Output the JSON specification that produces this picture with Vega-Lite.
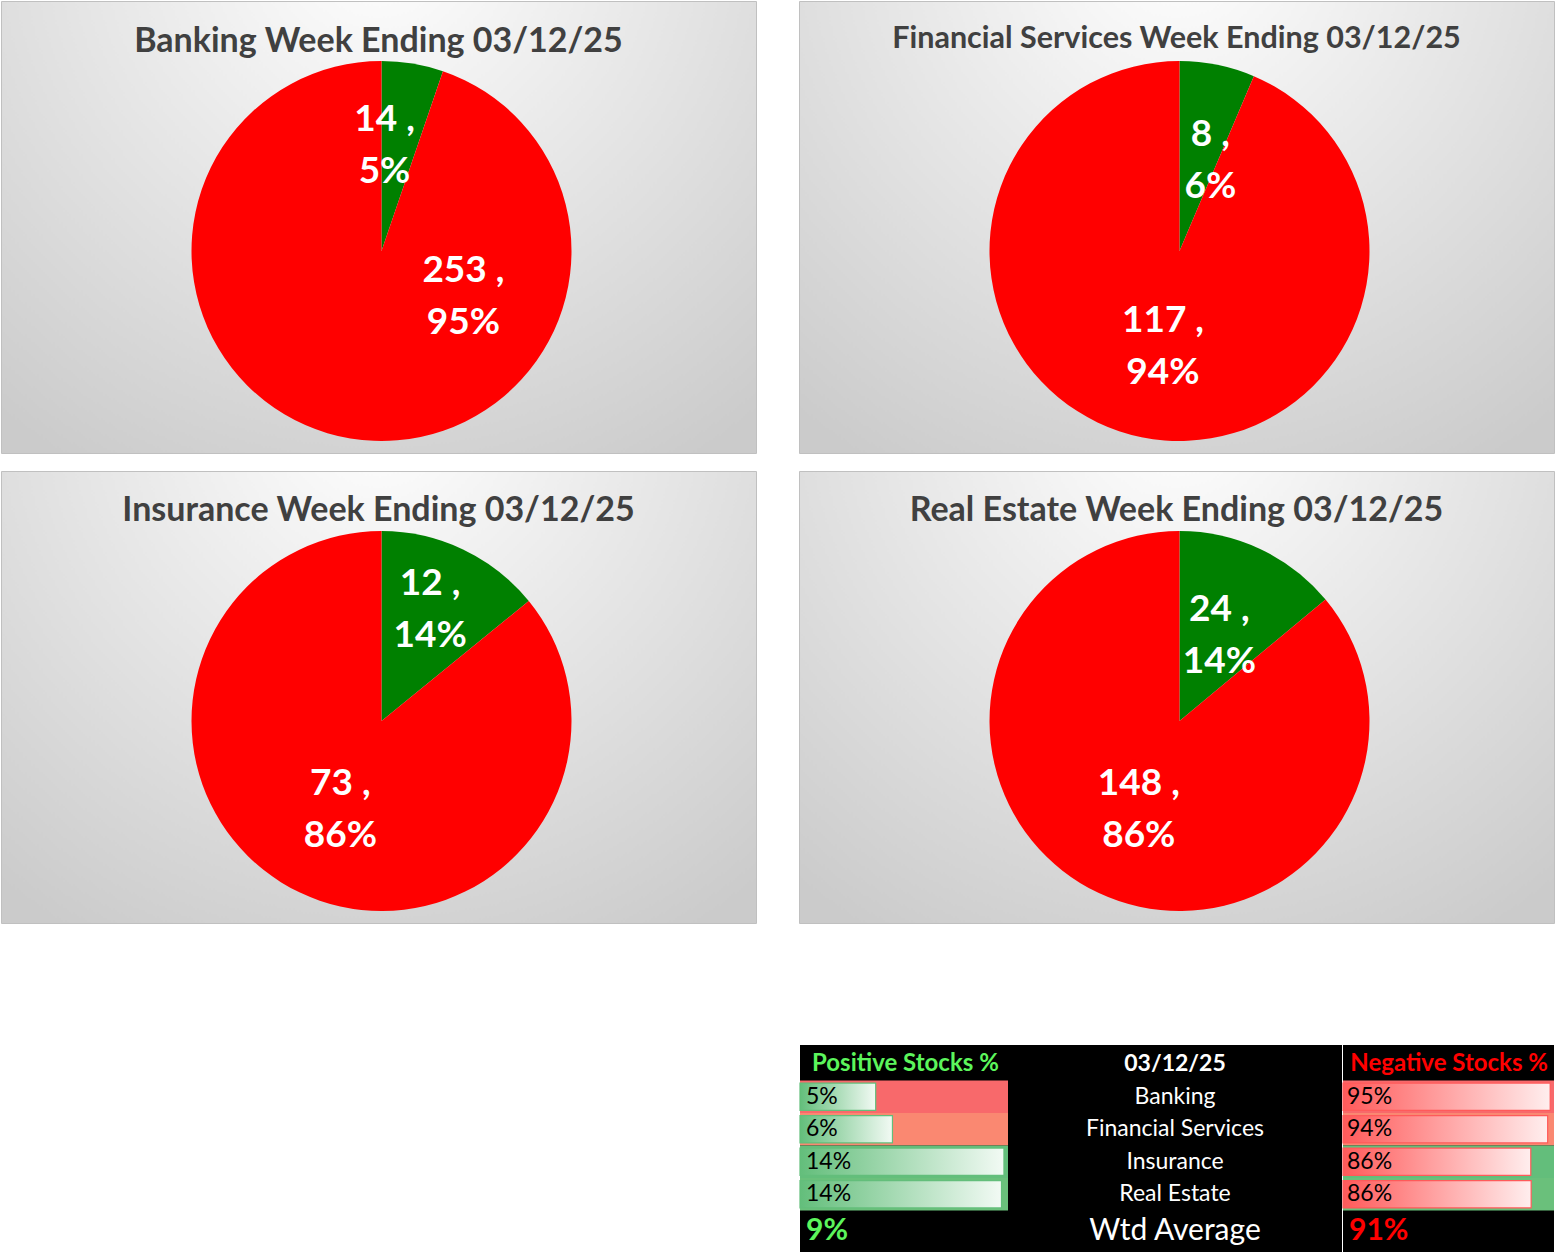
{
  "$schema": "https://vega.github.io/schema/vega-lite/v6.json",
  "background": "white",
  "padding": 0,
  "config": {"view": {"stroke": null}, "font": "Lato"},
  "resolve": {"scale": {"color": "independent"}},
  "datasets": {
    "pies": [
      {"sector": "Banking", "sign": "Positive", "count": 14, "pct": 0.05},
      {"sector": "Banking", "sign": "Negative", "count": 253, "pct": 0.95},
      {"sector": "Financial Services", "sign": "Positive", "count": 8, "pct": 0.06},
      {"sector": "Financial Services", "sign": "Negative", "count": 117, "pct": 0.94},
      {"sector": "Insurance", "sign": "Positive", "count": 12, "pct": 0.14},
      {"sector": "Insurance", "sign": "Negative", "count": 73, "pct": 0.86},
      {"sector": "Real Estate", "sign": "Positive", "count": 24, "pct": 0.14},
      {"sector": "Real Estate", "sign": "Negative", "count": 148, "pct": 0.86}
    ],
    "titles": [
      {"sector": "Banking", "title": "Banking Week Ending 03/12/25"},
      {"sector": "Financial Services", "title": "Financial Services Week Ending 03/12/25"},
      {"sector": "Insurance", "title": "Insurance Week Ending 03/12/25"},
      {"sector": "Real Estate", "title": "Real Estate Week Ending 03/12/25"}
    ],
    "table": [
      {"sector": "Banking", "pos": 0.0524, "neg": 0.9476},
      {"sector": "Financial Services", "pos": 0.064, "neg": 0.936},
      {"sector": "Insurance", "pos": 0.1412, "neg": 0.8588},
      {"sector": "Real Estate", "pos": 0.1395, "neg": 0.8605}
    ],
    "summary": [
      {"date": "03/12/25", "posHeader": "Positive Stocks %", "negHeader": "Negative Stocks %", "avgLabel": "Wtd Average", "posAvg": 0.09, "negAvg": 0.91}
    ]
  },
  "vconcat": [
    {
      "resolve": {"scale": {"color": "independent"}},
      "vconcat": [
        {
          "resolve": {"scale": {"color": "independent"}},
          "hconcat": [
            {
              "width": 755, "height": 452,
              "view": {"fill": {"gradient": "radial", "x1": 0.5, "y1": 0.12, "r1": 0, "x2": 0.5, "y2": 0.12, "r2": 0.8, "stops": [{"offset": 0, "color": "#ffffff"}, {"offset": 1, "color": "#cbcbcb"}]}, "stroke": "#c0c0c0"},
              "layer": [
                {"data": {"name": "pies"},
                 "transform": [{"filter": "datum.sector == 'Banking'"}],
                 "mark": {"type": "arc", "outerRadius": 190, "xOffset": 3, "yOffset": 24},
                 "encoding": {"theta": {"field": "count", "type": "quantitative", "stack": true}, "order": {"field": "count", "sort": "ascending"},
                   "color": {"field": "sign", "type": "nominal", "scale": {"domain": ["Positive", "Negative"], "range": ["#008000", "#FF0000"]}, "legend": null}}},
                {"data": {"name": "pies"},
                 "transform": [{"filter": "datum.sector == 'Banking'"}, {"calculate": "[datum.count + ' ,', format(datum.pct, '.0%')]", "as": "label"}],
                 "mark": {"type": "text", "xOffset": 3, "yOffset": 24, "dy": -26, "radius": {"expr": "datum.sign == 'Positive' ? 105 : 94"}, "thetaOffset": {"expr": "datum.sign == 'Positive' ? -0.136 : -1.223"}, "fontSize": 37, "fontWeight": "bold", "color": "white", "lineHeight": 52, "baseline": "middle", "align": "center"},
                 "encoding": {"theta": {"field": "count", "type": "quantitative", "stack": true}, "order": {"field": "count", "sort": "ascending"}, "text": {"field": "label"}, "detail": {"field": "sign"}}},
                {"data": {"name": "titles"},
                 "transform": [{"filter": "datum.sector == 'Banking'"}],
                 "mark": {"type": "text", "yOffset": -185, "fontSize": 34, "fontWeight": "bold", "color": "#404040", "baseline": "middle", "align": "center"},
                 "encoding": {"text": {"field": "title"}}}
              ]
            },
            {
              "width": 755, "height": 452,
              "view": {"fill": {"gradient": "radial", "x1": 0.5, "y1": 0.12, "r1": 0, "x2": 0.5, "y2": 0.12, "r2": 0.8, "stops": [{"offset": 0, "color": "#ffffff"}, {"offset": 1, "color": "#cbcbcb"}]}, "stroke": "#c0c0c0"},
              "layer": [
                {"data": {"name": "pies"},
                 "transform": [{"filter": "datum.sector == 'Financial Services'"}],
                 "mark": {"type": "arc", "outerRadius": 190, "xOffset": 3, "yOffset": 24},
                 "encoding": {"theta": {"field": "count", "type": "quantitative", "stack": true}, "order": {"field": "count", "sort": "ascending"},
                   "color": {"field": "sign", "type": "nominal", "scale": {"domain": ["Positive", "Negative"], "range": ["#008000", "#FF0000"]}, "legend": null}}},
                {"data": {"name": "pies"},
                 "transform": [{"filter": "datum.sector == 'Financial Services'"}, {"calculate": "[datum.count + ' ,', format(datum.pct, '.0%')]", "as": "label"}],
                 "mark": {"type": "text", "xOffset": 3, "yOffset": 24, "dy": -26, "radius": {"expr": "datum.sign == 'Positive' ? 95 : 97"}, "thetaOffset": {"expr": "datum.sign == 'Positive' ? 0.13 : -0.03"}, "fontSize": 37, "fontWeight": "bold", "color": "white", "lineHeight": 52, "baseline": "middle", "align": "center"},
                 "encoding": {"theta": {"field": "count", "type": "quantitative", "stack": true}, "order": {"field": "count", "sort": "ascending"}, "text": {"field": "label"}, "detail": {"field": "sign"}}},
                {"data": {"name": "titles"},
                 "transform": [{"filter": "datum.sector == 'Financial Services'"}],
                 "mark": {"type": "text", "yOffset": -188, "fontSize": 30.5, "fontWeight": "bold", "color": "#404040", "baseline": "middle", "align": "center"},
                 "encoding": {"text": {"field": "title"}}}
              ]
            }
          ],
          "spacing": 41
        },
        {
          "resolve": {"scale": {"color": "independent"}},
          "hconcat": [
            {
              "width": 755, "height": 452,
              "view": {"fill": {"gradient": "radial", "x1": 0.5, "y1": 0.12, "r1": 0, "x2": 0.5, "y2": 0.12, "r2": 0.8, "stops": [{"offset": 0, "color": "#ffffff"}, {"offset": 1, "color": "#cbcbcb"}]}, "stroke": "#c0c0c0"},
              "layer": [
                {"data": {"name": "pies"},
                 "transform": [{"filter": "datum.sector == 'Insurance'"}],
                 "mark": {"type": "arc", "outerRadius": 190, "xOffset": 3, "yOffset": 24},
                 "encoding": {"theta": {"field": "count", "type": "quantitative", "stack": true}, "order": {"field": "count", "sort": "ascending"},
                   "color": {"field": "sign", "type": "nominal", "scale": {"domain": ["Positive", "Negative"], "range": ["#008000", "#FF0000"]}, "legend": null}}},
                {"data": {"name": "pies"},
                 "transform": [{"filter": "datum.sector == 'Insurance'"}, {"calculate": "[datum.count + ' ,', format(datum.pct, '.0%')]", "as": "label"}],
                 "mark": {"type": "text", "xOffset": 3, "yOffset": 24, "dy": -26, "radius": {"expr": "datum.sign == 'Positive' ? 121 : 98"}, "thetaOffset": {"expr": "datum.sign == 'Positive' ? -0.03 : -0.01"}, "fontSize": 37, "fontWeight": "bold", "color": "white", "lineHeight": 52, "baseline": "middle", "align": "center"},
                 "encoding": {"theta": {"field": "count", "type": "quantitative", "stack": true}, "order": {"field": "count", "sort": "ascending"}, "text": {"field": "label"}, "detail": {"field": "sign"}}},
                {"data": {"name": "titles"},
                 "transform": [{"filter": "datum.sector == 'Insurance'"}],
                 "mark": {"type": "text", "yOffset": -186, "fontSize": 34, "fontWeight": "bold", "color": "#404040", "baseline": "middle", "align": "center"},
                 "encoding": {"text": {"field": "title"}}}
              ]
            },
            {
              "width": 755, "height": 452,
              "view": {"fill": {"gradient": "radial", "x1": 0.5, "y1": 0.12, "r1": 0, "x2": 0.5, "y2": 0.12, "r2": 0.8, "stops": [{"offset": 0, "color": "#ffffff"}, {"offset": 1, "color": "#cbcbcb"}]}, "stroke": "#c0c0c0"},
              "layer": [
                {"data": {"name": "pies"},
                 "transform": [{"filter": "datum.sector == 'Real Estate'"}],
                 "mark": {"type": "arc", "outerRadius": 190, "xOffset": 3, "yOffset": 24},
                 "encoding": {"theta": {"field": "count", "type": "quantitative", "stack": true}, "order": {"field": "count", "sort": "ascending"},
                   "color": {"field": "sign", "type": "nominal", "scale": {"domain": ["Positive", "Negative"], "range": ["#008000", "#FF0000"]}, "legend": null}}},
                {"data": {"name": "pies"},
                 "transform": [{"filter": "datum.sector == 'Real Estate'"}, {"calculate": "[datum.count + ' ,', format(datum.pct, '.0%')]", "as": "label"}],
                 "mark": {"type": "text", "xOffset": 3, "yOffset": 24, "dy": -26, "radius": {"expr": "datum.sign == 'Positive' ? 94 : 98"}, "thetaOffset": {"expr": "datum.sign == 'Positive' ? 0 : -0.01"}, "fontSize": 37, "fontWeight": "bold", "color": "white", "lineHeight": 52, "baseline": "middle", "align": "center"},
                 "encoding": {"theta": {"field": "count", "type": "quantitative", "stack": true}, "order": {"field": "count", "sort": "ascending"}, "text": {"field": "label"}, "detail": {"field": "sign"}}},
                {"data": {"name": "titles"},
                 "transform": [{"filter": "datum.sector == 'Real Estate'"}],
                 "mark": {"type": "text", "yOffset": -186, "fontSize": 34, "fontWeight": "bold", "color": "#404040", "baseline": "middle", "align": "center"},
                 "encoding": {"text": {"field": "title"}}}
              ]
            }
          ],
          "spacing": 41
        }
      ],
      "spacing": 16
    },
    {
      "resolve": {"scale": {"color": "independent"}},
      "hconcat": [
        {"width": 798, "height": 207, "data": {"values": []}, "mark": "point"},
        {
          "width": 208, "height": 207,
          "view": {"fill": "#000000", "stroke": null},
          "layer": [
            {"data": {"name": "table"},
             "mark": {"type": "rect"},
             "encoding": {
               "y": {"field": "sector", "type": "nominal", "axis": null, "scale": {"type": "band", "domain": ["Header", "Banking", "Financial Services", "Insurance", "Real Estate", "Footer"], "paddingInner": 0, "paddingOuter": 0.1846, "align": 0.25}},
               "x": {"datum": 0, "type": "quantitative", "axis": null, "scale": {"domain": [0, 0.144], "nice": false, "zero": true}},
               "x2": {"datum": 0.144},
               "color": {"field": "pos", "type": "quantitative", "legend": null, "scale": {"domain": [0.0524, 0.1018, 0.1412], "range": ["#F8696B", "#FFEB84", "#63BE7B"], "interpolate": "rgb"}}
             }},
            {"data": {"name": "table"},
             "mark": {"type": "bar", "height": {"band": 0.84}, "stroke": "#63BE7B", "strokeWidth": 1.2, "color": {"gradient": "linear", "x1": 0, "y1": 0, "x2": 1, "y2": 0, "stops": [{"offset": 0, "color": "#63BE7B"}, {"offset": 1, "color": "#f2faf4"}]}},
             "encoding": {
               "y": {"field": "sector", "type": "nominal"},
               "x": {"field": "pos", "type": "quantitative"}
             }},
            {"data": {"name": "table"},
             "mark": {"type": "text", "align": "left", "dx": 6, "fontSize": 23, "color": "#000000", "baseline": "middle"},
             "encoding": {
               "y": {"field": "sector", "type": "nominal"},
               "x": {"datum": 0, "type": "quantitative"},
               "text": {"field": "pos", "type": "quantitative", "format": ".0%"}
             }},
            {"data": {"name": "summary"},
             "mark": {"type": "text", "align": "left", "dx": 12, "fontSize": 24, "fontWeight": "bold", "color": "#5CF55C", "baseline": "middle"},
             "encoding": {
               "y": {"datum": "Header", "type": "nominal"},
               "x": {"datum": 0, "type": "quantitative"},
               "text": {"field": "posHeader"}
             }},
            {"data": {"name": "summary"},
             "mark": {"type": "text", "align": "left", "dx": 6, "dy": 4, "fontSize": 30, "fontWeight": "bold", "color": "#5CF55C", "baseline": "middle"},
             "encoding": {
               "y": {"datum": "Footer", "type": "nominal"},
               "x": {"datum": 0, "type": "quantitative"},
               "text": {"field": "posAvg", "type": "quantitative", "format": ".0%"}
             }}
          ]
        },
        {
          "width": 334, "height": 207,
          "view": {"fill": "#000000", "stroke": null},
          "layer": [
            {"data": {"name": "table"},
             "mark": {"type": "text", "fontSize": 23, "color": "#ffffff", "baseline": "middle", "align": "center"},
             "encoding": {
               "y": {"field": "sector", "type": "nominal", "axis": null, "scale": {"type": "band", "domain": ["Header", "Banking", "Financial Services", "Insurance", "Real Estate", "Footer"], "paddingInner": 0, "paddingOuter": 0.1846, "align": 0.25}},
               "text": {"field": "sector"}
             }},
            {"data": {"name": "summary"},
             "mark": {"type": "text", "fontSize": 23, "fontWeight": "bold", "color": "#ffffff", "baseline": "middle", "align": "center"},
             "encoding": {
               "y": {"datum": "Header", "type": "nominal"},
               "text": {"field": "date"}
             }},
            {"data": {"name": "summary"},
             "mark": {"type": "text", "fontSize": 30, "color": "#ffffff", "baseline": "middle", "align": "center", "dy": 4},
             "encoding": {
               "y": {"datum": "Footer", "type": "nominal"},
               "text": {"field": "avgLabel"}
             }}
          ]
        },
        {
          "width": 211, "height": 207,
          "view": {"fill": "#000000", "stroke": null},
          "layer": [
            {"data": {"name": "table"},
             "mark": {"type": "rect"},
             "encoding": {
               "y": {"field": "sector", "type": "nominal", "axis": null, "scale": {"type": "band", "domain": ["Header", "Banking", "Financial Services", "Insurance", "Real Estate", "Footer"], "paddingInner": 0, "paddingOuter": 0.1846, "align": 0.25}},
               "x": {"datum": 0, "type": "quantitative", "axis": null, "scale": {"domain": [0, 0.965], "nice": false, "zero": true}},
               "x2": {"datum": 0.965},
               "color": {"field": "neg", "type": "quantitative", "legend": null, "scale": {"domain": [0.8588, 0.8983, 0.9476], "range": ["#63BE7B", "#FFEB84", "#F8696B"], "interpolate": "rgb"}}
             }},
            {"data": {"name": "table"},
             "mark": {"type": "bar", "height": {"band": 0.84}, "stroke": "#FF5A5A", "strokeWidth": 1.2, "color": {"gradient": "linear", "x1": 0, "y1": 0, "x2": 1, "y2": 0, "stops": [{"offset": 0, "color": "#FF5A5A"}, {"offset": 1, "color": "#ffeeee"}]}},
             "encoding": {
               "y": {"field": "sector", "type": "nominal"},
               "x": {"field": "neg", "type": "quantitative"}
             }},
            {"data": {"name": "table"},
             "mark": {"type": "text", "align": "left", "dx": 4, "fontSize": 23, "color": "#000000", "baseline": "middle"},
             "encoding": {
               "y": {"field": "sector", "type": "nominal"},
               "x": {"datum": 0, "type": "quantitative"},
               "text": {"field": "neg", "type": "quantitative", "format": ".0%"}
             }},
            {"data": {"name": "summary"},
             "mark": {"type": "text", "align": "right", "dx": -6, "fontSize": 24, "fontWeight": "bold", "color": "#FF0000", "baseline": "middle"},
             "encoding": {
               "y": {"datum": "Header", "type": "nominal"},
               "x": {"datum": 0.965, "type": "quantitative"},
               "text": {"field": "negHeader"}
             }},
            {"data": {"name": "summary"},
             "mark": {"type": "text", "align": "left", "dx": 6, "dy": 4, "fontSize": 30, "fontWeight": "bold", "color": "#FF0000", "baseline": "middle"},
             "encoding": {
               "y": {"datum": "Footer", "type": "nominal"},
               "x": {"datum": 0, "type": "quantitative"},
               "text": {"field": "negAvg", "type": "quantitative", "format": ".0%"}
             }}
          ]
        }
      ],
      "spacing": 0
    }
  ],
  "spacing": 121
}
